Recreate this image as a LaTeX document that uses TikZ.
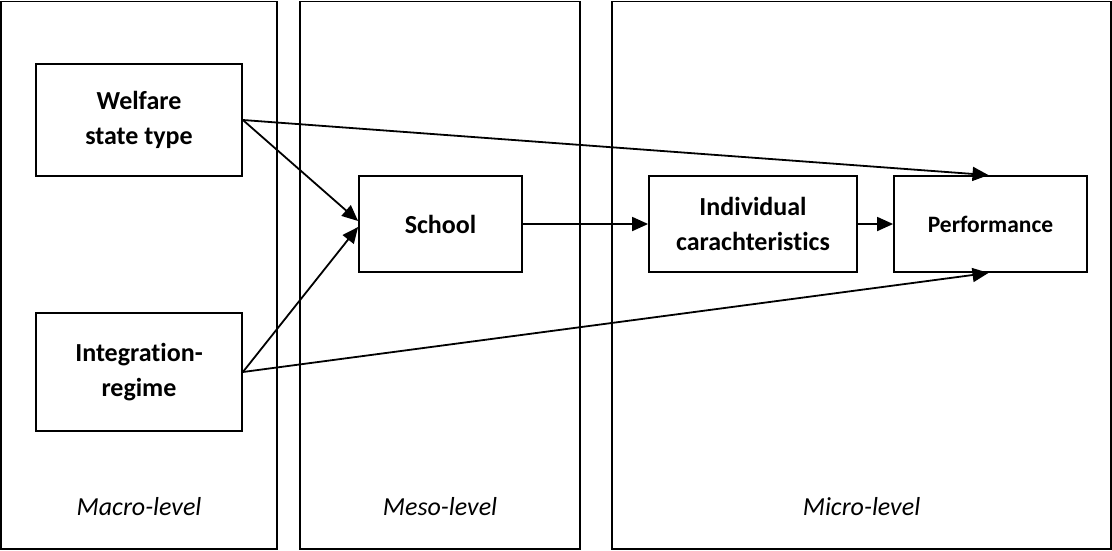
\documentclass[tikz,border=0pt]{standalone}
\usepackage{fontspec}
\setmainfont[Ligatures=NoCommon]{Carlito}
\usetikzlibrary{arrows.meta}
\begin{document}
\begin{tikzpicture}[x=1pt,y=-1pt,
  panel/.style={draw, line width=1.8pt},
  box/.style={draw, line width=1.8pt, align=center, inner sep=0pt,
    font=\fontsize{26}{35}\selectfont\bfseries},
  lvl/.style={inner sep=0pt, font=\fontsize{26}{32}\selectfont\itshape},
  arr/.style={line width=1.8pt, -{Triangle[length=16pt,width=14pt]}}]
\useasboundingbox (0,0) rectangle (1112,550);
% panels
\draw[panel] (1,1.5) rectangle (277,549);
\draw[panel] (300,1.5) rectangle (580,549);
\draw[panel] (612,1.5) rectangle (1111,549);
% level labels
\node[lvl] (macro) at (139,507) {Macro-level};
\node[lvl] (meso) at (440,507) {Meso-level};
\node[lvl] (micro) at (861.5,507) {Micro-level};
% boxes
\node[box, minimum width=206pt, minimum height=112pt] (welfare) at (139,120) {Welfare\\state type};
\node[box, minimum width=206pt, minimum height=118pt] (integ) at (139,372) {Integration-\\regime};
\node[box, minimum width=163pt, minimum height=96pt] (school) at (440.5,224) {School};
\node[box, minimum width=208pt, minimum height=96pt] (indiv) at (753,224) {Individual\\carachteristics};
\node[box, minimum width=193pt, minimum height=96pt, font=\fontsize{23.5}{30}\selectfont\bfseries] (perf) at (990.5,224) {Performance};
% connectors
\draw[arr] (welfare.east) -- ([yshift=3pt]school.west);
\draw[arr] (integ.east) -- ([yshift=-3pt]school.west);
\draw[arr] (welfare.east) -- ([xshift=-2pt]perf.north);
\draw[arr] (integ.east) -- ([xshift=-2pt]perf.south);
\draw[arr] (school.east) -- (indiv.west);
\draw[arr] (indiv.east) -- (perf.west);
\end{tikzpicture}
\end{document}
